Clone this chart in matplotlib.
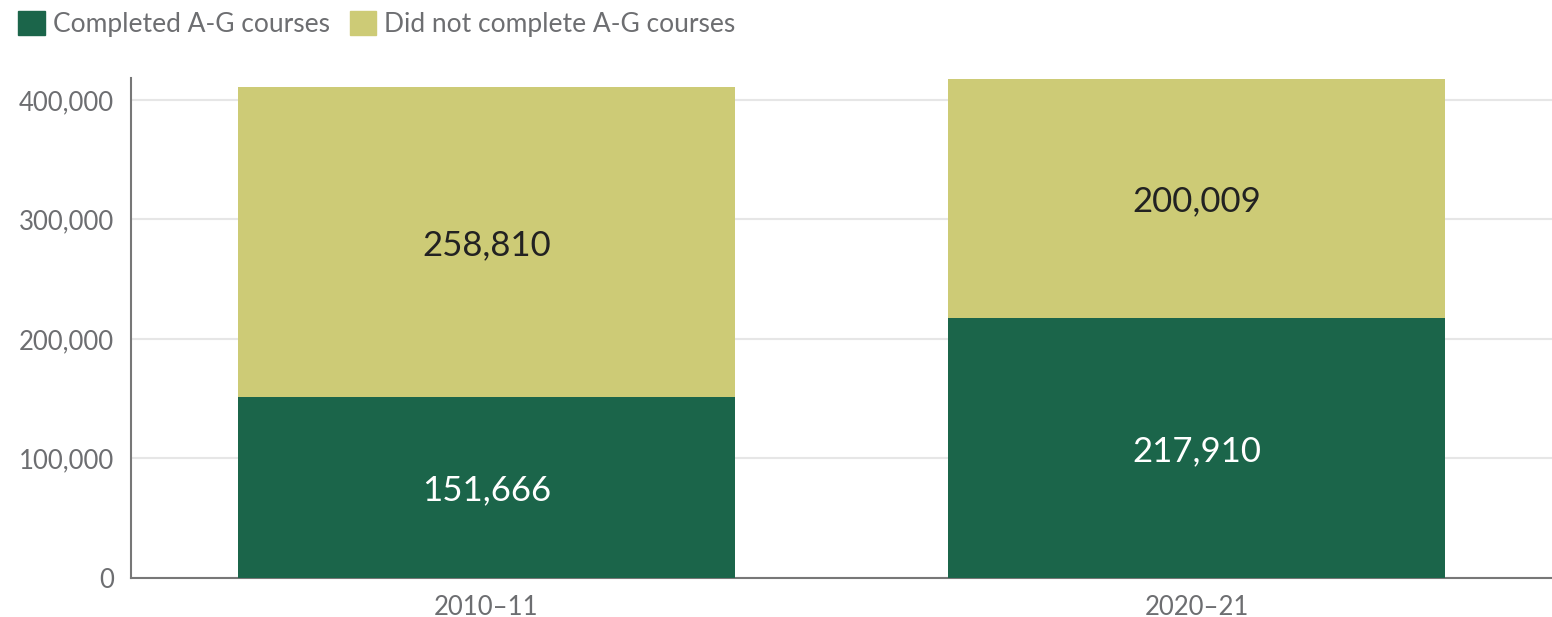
import matplotlib.pyplot as plt
from matplotlib.patches import Patch
from matplotlib.ticker import FuncFormatter

years = ['2010–11', '2020–21']
completed = [151666, 217910]
not_completed = [258810, 200009]
series_names = ['Completed A-G courses', 'Did not complete A-G courses']

verde = '#1b654a'
caqui = '#cdcb76'
cinza = '#6d6e71'

plt.rcParams['font.family'] = ['Lato', 'DejaVu Sans']

fig = plt.figure(figsize=(15.52, 6.17), dpi=100)
ax = fig.add_axes([131 / 1552, 1 - 578 / 617, 1 - 131 / 1552, 500 / 617])

pos = range(len(years))
ax.bar(pos, completed, width=0.7, color=verde, zorder=3)
ax.bar(pos, not_completed, width=0.7, bottom=completed, color=caqui, zorder=3)

for i in pos:
    ax.text(i, completed[i] / 2, f'{completed[i]:,}', ha='center', va='center_baseline',
            fontsize=25, color='white', zorder=4)
    ax.text(i, completed[i] + not_completed[i] / 2, f'{not_completed[i]:,}',
            ha='center', va='center_baseline', fontsize=25, color='#222222', zorder=4)

ax.set_xlim(-0.5, 1.5)
ax.set_ylim(0, 418400)
ax.set_yticks([0, 100000, 200000, 300000, 400000])
ax.yaxis.set_major_formatter(FuncFormatter(lambda v, p: f'{int(v):,}'))
ax.set_xticks(list(pos))
ax.set_xticklabels(years)
ax.tick_params(length=0, labelsize=18.5, colors=cinza, pad=12)
ax.tick_params(axis='y', pad=12)
ax.grid(axis='y', color='#e6e6e6', linewidth=1.5, zorder=0)
for lado in ['top', 'right']:
    ax.spines[lado].set_visible(False)
for lado in ['left', 'bottom']:
    ax.spines[lado].set_color('#777777')
    ax.spines[lado].set_linewidth(1.5)

handles = [Patch(color=verde), Patch(color=caqui)]
leg = fig.legend(handles, series_names, loc='upper left', bbox_to_anchor=(0.0, 1.012),
                 ncol=2, frameon=False, fontsize=19, handlelength=1.0, handleheight=1.0,
                 handletextpad=0.3, columnspacing=0.75, borderaxespad=0.3)
for t in leg.get_texts():
    t.set_color(cinza)

fig.savefig('out.png', dpi=100)
